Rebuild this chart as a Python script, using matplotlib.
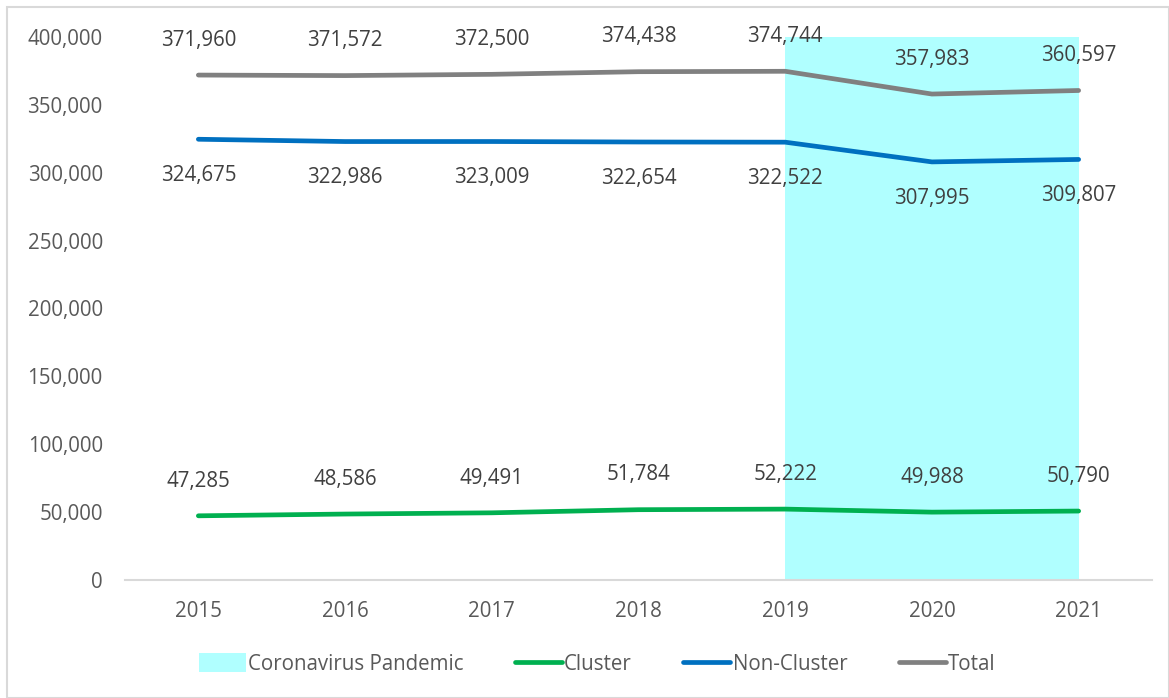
import matplotlib.pyplot as plt
from matplotlib.patches import Rectangle
from matplotlib.ticker import FuncFormatter

years = ['2015', '2016', '2017', '2018', '2019', '2020', '2021']
cluster = [47285, 48586, 49491, 51784, 52222, 49988, 50790]
non_cluster = [324675, 322986, 323009, 322654, 322522, 307995, 309807]
total = [371960, 371572, 372500, 374438, 374744, 357983, 360597]
pandemic = [None, None, None, None, 400000, 400000, 400000]

text_col = '#595959'
fs = 14.8
plt.rcParams['font.family'] = ['Open Sans', 'DejaVu Sans']
plt.rcParams['font.size'] = fs

fig = plt.figure(figsize=(11.69, 6.98), dpi=100)
ax = fig.add_axes([125 / 1169, 1 - 580 / 698, 1027 / 1169, 543 / 698])
x = list(range(len(years)))

# shaded pandemic area (2019-2021)
px = [i for i, v in zip(x, pandemic) if v is not None]
pv = [v for v in pandemic if v is not None]
ax.fill_between(px, 0, pv, color='#B0FFFF', lw=0, label='Coronavirus Pandemic', zorder=1)

ax.plot(x, cluster, color='#00B050', lw=3.4, solid_capstyle='round', label='Cluster', zorder=3)
ax.plot(x, non_cluster, color='#0070C0', lw=3.4, solid_capstyle='round', label='Non-Cluster', zorder=3)
ax.plot(x, total, color='#808080', lw=3.4, solid_capstyle='round', label='Total', zorder=3)

def label(vals, dy):
    for i, v in zip(x, vals):
        ax.annotate(f'{v:,}', (i, v), xytext=(0, dy), textcoords='offset points',
                    ha='center', va='center', color='#404040', fontsize=fs, zorder=4)

label(cluster, 25)
label(non_cluster, -26)
label(total, 25)

ax.set_xlim(-0.5, 6.5)
ax.set_ylim(0, 400000)
ax.set_yticks(range(0, 400001, 50000))
ax.yaxis.set_major_formatter(FuncFormatter(lambda v, p: f'{int(v):,}'))
ax.set_xticks(x)
ax.set_xticklabels(years)
ax.tick_params(length=0, colors=text_col, labelsize=fs)
ax.tick_params(axis='x', pad=15)
ax.tick_params(axis='y', pad=16)
for s in ['top', 'right', 'left']:
    ax.spines[s].set_visible(False)
ax.spines['bottom'].set_color('#D9D9D9')
ax.spines['bottom'].set_linewidth(1.5)

leg = ax.legend(loc='center', bbox_to_anchor=(597 / 1169, 1 - 664 / 698),
                bbox_transform=fig.transFigure, ncol=4, frameon=False,
                handlelength=2.3, handleheight=1.0, handletextpad=0.1,
                columnspacing=2.5, fontsize=fs)
for t in leg.get_texts():
    t.set_color(text_col)

fig.patches.append(Rectangle((7 / 1169, 0), 1 - 7 / 1169, 1 - 7 / 698,
                             transform=fig.transFigure, fill=False,
                             edgecolor='#D9D9D9', lw=1.5))

fig.savefig('out.png', dpi=100)
